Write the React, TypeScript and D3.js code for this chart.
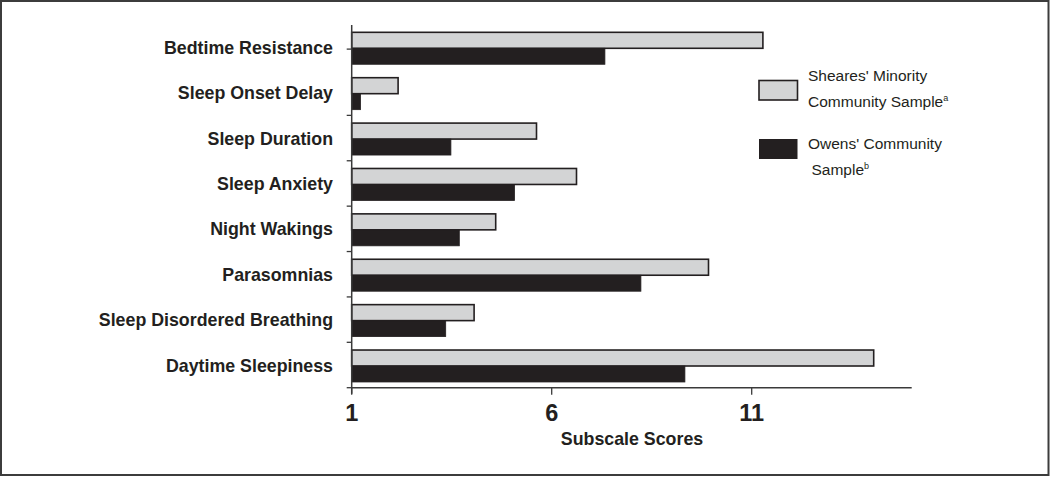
import React from "react";
import * as d3 from "d3";

const categories = [
  "Bedtime Resistance",
  "Sleep Onset Delay",
  "Sleep Duration",
  "Sleep Anxiety",
  "Night Wakings",
  "Parasomnias",
  "Sleep Disordered Breathing",
  "Daytime Sleepiness",
];
const shearesValues = [11.28, 2.16, 5.62, 6.62, 4.6, 9.92, 4.06, 14.05];
const owensValues = [7.33, 1.22, 3.48, 5.07, 3.69, 8.23, 3.35, 9.33];
const xTicks = [1, 6, 11];
const seriesNames = ["Sheares' Minority", "Community Sample", "Owens' Community", "Sample"];

const W = 1050;
const H = 477;
const FONT = "'Liberation Sans', Arial, Helvetica, sans-serif";

export default function App() {
  const x = d3.scaleLinear().domain([1, 15]).range([351.7, 911.7]);
  const y = d3.scaleBand<string>().domain(categories).range([24.6, 387.7]).padding(0);
  const bw = y.bandwidth();
  const barH = bw * 0.352;
  const topOff = bw * 0.17;
  const axisY = 387.7;
  const axisX = x(1);

  const yTickPos: number[] = [];
  categories.forEach((c, i) => {
    if (i === 0) yTickPos.push((y(c) as number) + bw * 0.54);
    else yTickPos.push((y(c) as number) + bw);
  });

  return (
    <div style={{ position: "absolute", left: 0, top: 0 }}>
      <svg width={W} height={H} style={{ display: "block", background: "#fff" }}>
        <rect x={1} y={1} width={W - 2.5} height={H - 3} fill="#fff" stroke="#3c3c3c" strokeWidth={2} />
        {/* bars */}
        {categories.map((c, i) => {
          const y0 = (y(c) as number) + topOff;
          return (
            <g key={c}>
              <rect
                x={x(1)}
                y={y0}
                width={x(shearesValues[i]) - x(1)}
                height={barH}
                fill="#d3d4d5"
                stroke="#231f20"
                strokeWidth={1.6}
              />
              <rect
                x={x(1)}
                y={y0 + barH}
                width={x(owensValues[i]) - x(1)}
                height={barH}
                fill="#231f20"
                stroke="#231f20"
                strokeWidth={0.8}
              />
            </g>
          );
        })}
        {/* y axis */}
        <line x1={axisX} x2={axisX} y1={25} y2={axisY + 6} stroke="#3a3a3a" strokeWidth={1.5} />
        {yTickPos.map((p, i) => (
          <line key={i} x1={axisX - 5} x2={axisX} y1={p} y2={p} stroke="#3a3a3a" strokeWidth={1.3} />
        ))}
        {categories.map((c) => (
          <text
            key={c}
            x={333}
            y={(y(c) as number) + bw / 2 + 0.5}
            textAnchor="end"
            dominantBaseline="central"
            fontFamily={FONT}
            fontWeight="bold"
            fontSize={17.8}
            fill="#231f20"
          >
            {c}
          </text>
        ))}
        {/* x axis */}
        <line x1={axisX - 0.7} x2={911.7} y1={axisY} y2={axisY} stroke="#3a3a3a" strokeWidth={1.5} />
        {xTicks.map((t) => (
          <g key={t}>
            <line x1={x(t)} x2={x(t)} y1={axisY} y2={axisY + 7} stroke="#3a3a3a" strokeWidth={1.3} />
            <text
              x={x(t)}
              y={421}
              textAnchor="middle"
              fontFamily={FONT}
              fontWeight="bold"
              fontSize={23.5}
              fill="#231f20"
            >
              {t}
            </text>
          </g>
        ))}
        <text x={632} y={445} textAnchor="middle" fontFamily={FONT} fontWeight="bold" fontSize={17.8} fill="#231f20">
          Subscale Scores
        </text>
        {/* legend */}
        <rect x={759} y={80.5} width={38.5} height={19.5} fill="#d3d4d5" stroke="#231f20" strokeWidth={1.6} />
        <rect x={759} y={139} width={38.5} height={20} fill="#231f20" />
        <text x={808} y={81} fontFamily={FONT} fontSize={15.5} fill="#231f20">
          {seriesNames[0]}
        </text>
        <text x={808} y={106.5} fontFamily={FONT} fontSize={15.5} fill="#231f20">
          {seriesNames[1]}
          <tspan fontSize={9} dy={-6}>a</tspan>
        </text>
        <text x={808} y={148.5} fontFamily={FONT} fontSize={15.5} fill="#231f20">
          {seriesNames[2]}
        </text>
        <text x={811.5} y={175} fontFamily={FONT} fontSize={15.5} fill="#231f20">
          {seriesNames[3]}
          <tspan fontSize={9} dy={-6}>b</tspan>
        </text>
      </svg>
    </div>
  );
}
